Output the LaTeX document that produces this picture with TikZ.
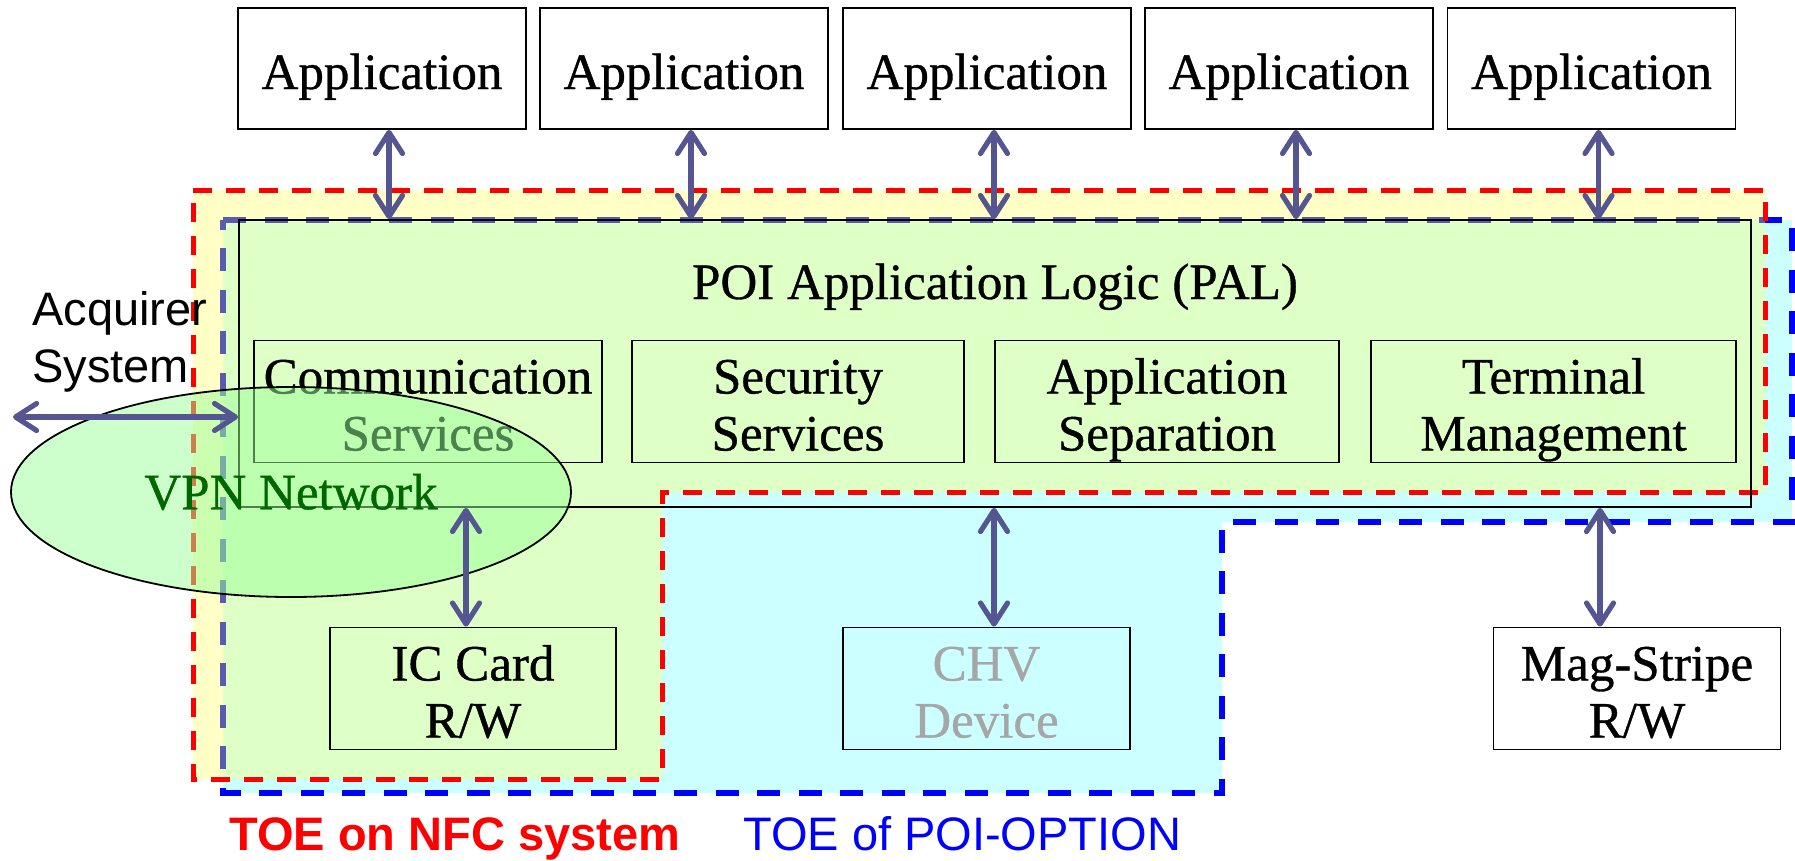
\documentclass[tikz,border=0pt]{standalone}
\usepackage{fontspec}
\setmainfont{Liberation Serif}
\setsansfont{Liberation Sans}
\newfontfamily\refserif{Liberation Serif}[FakeBold=0.7]
\usetikzlibrary{arrows.meta,shapes.geometric}
\definecolor{yfill}{RGB}{255,255,198}
\definecolor{cfill}{RGB}{204,255,255}
\definecolor{gfill}{RGB}{222,255,198}
\definecolor{efill}{RGB}{153,255,153}
\definecolor{arrowc}{RGB}{85,85,145}
\definecolor{slate}{RGB}{90,90,175}
\definecolor{vpngreen}{RGB}{0,102,0}
\definecolor{chvgray}{RGB}{166,166,166}
\newcommand{\serifbig}{\fontsize{51pt}{57pt}\selectfont\refserif}
\newcommand{\sansbig}{\fontsize{47pt}{57pt}\selectfont\sffamily}
\newcommand{\tstrut}{\rule{0pt}{53pt}}
\newcommand{\bstrut}{\rule[-12pt]{0pt}{0pt}}
\begin{document}
\begin{tikzpicture}[x=1pt,y=-1pt,
  box/.style={draw=black, line width=1.8pt, inner sep=0pt, font=\serifbig, align=center},
  appbox/.style={box, minimum width=288pt, minimum height=121pt},
  subbox/.style={box, minimum height=121pt},
  dar/.style={draw=arrowc, line width=5.2pt,
    {Straight Barb[length=21pt,width=27pt,round]}-{Straight Barb[length=21pt,width=27pt,round]}},
  reddash/.style={draw=red, line width=5pt, dash pattern=on 19pt off 14pt, line join=miter},
  bluedash/.style={line width=6pt, dash pattern=on 23pt off 18.5pt, line join=miter},
]
\useasboundingbox (0,0) rectangle (1795,860);

% region fills
\fill[yfill] (193,190) -- (1765,190) -- (1765,492) -- (662,492) -- (662,779) -- (193,779) -- cycle;
\fill[cfill] (223,220) -- (1792,220) -- (1792,522) -- (1222,522) -- (1222,793) -- (223,793) -- cycle;
\fill[gfill] (223,220) -- (1765,220) -- (1765,492) -- (662,492) -- (662,779) -- (223,779) -- cycle;

% blue dashed outline (TOE of POI-OPTION)
\draw[bluedash, draw=blue] (223,220) -- (1792,220) -- (1792,522) -- (1222,522) -- (1222,793) -- (223,793) -- cycle;
\begin{scope}
  \clip (193,190) -- (1765,190) -- (1765,492) -- (662,492) -- (662,779) -- (193,779) -- cycle;
  \draw[bluedash, draw=slate] (223,220) -- (1792,220) -- (1792,522) -- (1222,522) -- (1222,793) -- (223,793) -- cycle;
\end{scope}

% red dashed outline (TOE on NFC system)
\draw[reddash] (193,190) -- (1765,190) -- (1765,492) -- (662,492) -- (662,779) -- (193,779) -- cycle;

% application boxes
\node[appbox] (a1) at (382,68.5) {\tstrut\bstrut Application};
\node[appbox] (a2) at (684,68.5) {\tstrut\bstrut Application};
\node[appbox] (a3) at (987,68.5) {\tstrut\bstrut Application};
\node[appbox] (a4) at (1289,68.5) {\tstrut\bstrut Application};
\node[appbox] (a5) at (1591.5,68.5) {\tstrut\bstrut Application};

% PAL box
\node[draw=black, line width=1.8pt, minimum width=1512pt, minimum height=287pt, inner sep=0pt] (pal) at (995,363.5) {};
\node[anchor=base, font=\serifbig, inner sep=0pt] (paltitle) at (995,299) {POI Application Logic (PAL)};

% sub boxes
\node[subbox, minimum width=348pt] (comm) at (428,401.5) {\tstrut Communication\\\bstrut Services};
\node[subbox, minimum width=332pt] (sec) at (798,401.5) {\tstrut Security\\\bstrut Services};
\node[subbox, minimum width=344pt] (sep) at (1167,401.5) {\tstrut Application\\\bstrut Separation};
\node[subbox, minimum width=365pt] (term) at (1553.5,401.5) {\tstrut Terminal\\\bstrut Management};

% lower boxes
\node[subbox, minimum width=286pt] (ic) at (473,688.5) {\tstrut IC Card\\\bstrut R/W};
\node[subbox, minimum width=287pt, text=chvgray] (chv) at (986.5,688.5) {\tstrut CHV\\\bstrut Device};
\node[subbox, minimum width=287pt, fill=white] (mag) at (1637,688.5) {\tstrut Mag-Stripe\\\bstrut R/W};

% VPN ellipse
\node[ellipse, draw=black, line width=1.8pt, fill=efill, fill opacity=0.5, text opacity=1,
      minimum width=560pt, minimum height=210pt, inner sep=0pt,
      font=\serifbig, text=vpngreen] (vpn) at (291,492) {VPN Network};

% Acquirer system
\node[anchor=west, align=left, font=\sansbig, inner sep=0pt] (acqtext) at (32,333) {\tstrut Acquirer\\\bstrut System};
\coordinate (acq) at (13,417);

% arrows
\foreach \n in {a1,a2,a3,a4,a5}
  \draw[dar] ([xshift=7pt]\n.south) -- ([xshift=7pt]\n.south |- pal.north);
\draw[dar] (acq) -- (acq -| pal.west);
\draw[dar] ([xshift=-7pt]ic.north) -- ([xshift=-7pt]ic.north |- pal.south);
\draw[dar] ([xshift=7.5pt]chv.north) -- ([xshift=7.5pt]chv.north |- pal.south);
\draw[dar] ([xshift=-37pt]mag.north) -- ([xshift=-37pt]mag.north |- pal.south);

% legend
\node[anchor=base west, font=\sansbig\bfseries, text=red, inner sep=0pt] (leg1) at (229,850) {TOE on NFC system};
\node[anchor=base west, font=\sansbig, text=blue, inner sep=0pt] (leg2) at (743,850) {TOE of POI-OPTION};
\end{tikzpicture}
\end{document}
